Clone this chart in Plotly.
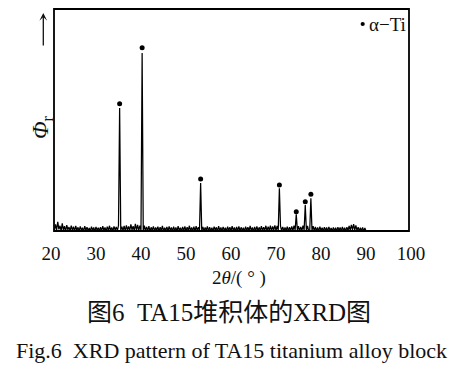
import plotly.graph_objects as go

# ---- data ----
scan_start = 20.75   # first 2theta of the step scan (deg)
scan_step = 0.25     # step of the scan (deg)
intensity = [
    0.6, 3.4, 0.9, 4.6, 1.2, 2.8, 0.5, 3.9, 0.8, 2.6, 0.4, 3.1, 1.0, 2.2, 0.5, 2.9, 0.7, 2.4, 0.4, 2.7,
    0.6, 2.1, 0.4, 2.5, 0.8, 1.9, 0.3, 2.6, 0.7, 2.2, 0.5, 1.8, 0.4, 2.4, 0.6, 2.0, 0.3, 2.3, 0.7, 1.9,
    0.5, 2.2, 0.4, 2.6, 0.7, 2.0, 0.3, 2.4, 0.6, 2.8, 0.5, 2.1, 0.4, 2.5, 0.8, 2.3, 0.6, 2.9,
    55.6,
    0.5, 2.4, 0.6, 2.7, 0.4, 3.0, 0.8, 2.5, 0.6, 3.4, 0.9, 2.6, 0.5, 3.7, 0.8, 3.2, 0.6, 2.9, 0.7,
    80.3,
    0.4, 2.9, 0.6, 2.3, 0.5, 2.6, 0.3, 2.1, 0.7, 2.5, 0.4, 2.0, 0.6, 2.4, 0.3, 2.2, 0.5, 2.7, 0.4, 1.9,
    0.6, 2.3, 0.3, 2.5, 0.7, 2.0, 0.4, 2.4, 0.5, 2.1, 0.3, 2.6, 0.6, 1.9, 0.4, 2.3, 0.5, 2.5, 0.3, 2.2,
    0.6, 2.8, 0.4, 2.1, 0.5, 2.4, 0.3, 2.6, 0.5, 2.2, 0.7,
    22.0,
    0.5, 2.3, 0.4, 2.0, 0.6, 2.5, 0.3, 2.2, 0.5, 1.9, 0.4, 2.4, 0.6, 2.1, 0.3, 2.6, 0.5, 2.0, 0.4, 2.3,
    0.6, 1.9, 0.3, 2.4, 0.5, 2.2, 0.4, 2.6, 0.6, 2.0, 0.3, 2.3, 0.5, 2.5, 0.4, 2.1, 0.6, 1.9, 0.3, 2.4,
    0.5, 2.2, 0.4, 2.7, 0.6, 2.0, 0.3, 2.3, 0.5, 2.5, 0.4, 2.1, 0.6, 2.6, 0.5, 2.2, 0.7, 2.8, 0.5, 2.4,
    0.6, 2.9, 0.5, 2.5, 0.8, 3.0, 0.6, 2.7, 0.9,
    19.6,
    2.6, 0.6, 2.3, 0.4, 2.1, 0.5, 2.4, 0.3, 2.2, 0.6, 2.5, 0.5, 2.9, 0.8,
    7.9,
    0.7, 2.6, 0.4, 2.3, 0.6, 2.8, 0.9,
    12.1,
    0.8, 2.7, 0.6, 0.9,
    15.1,
    0.7, 2.6, 0.4, 2.3, 0.5, 2.1, 0.3, 2.4, 0.6, 1.9, 0.4, 2.2, 0.5, 2.0, 0.3, 2.3, 0.6, 1.8, 0.4, 2.1,
    0.5, 1.9, 0.3, 2.2, 0.6, 2.0, 0.4, 2.3, 0.5, 1.9, 0.3, 2.2, 0.6, 2.7, 0.8, 3.2, 1.0, 3.5, 0.9, 3.0,
    0.6, 2.2, 0.4, 1.9, 0.5, 2.1, 0.3, 1.8, 0.4,
]
two_theta = [round(scan_start + scan_step * i, 2) for i in range(len(intensity))]

# alpha-Ti peak markers
peak_2theta = [35.25, 40.25, 53.25, 70.75, 74.5, 76.5, 77.75]
peak_marker_y = [57.5, 82.6, 23.8, 21.1, 9.1, 13.6, 16.9]

x_ticks = [20, 30, 40, 50, 60, 70, 80, 90, 100]

# ---- layout geometry ----
W, H = 463, 369
L, R, T, B = 51, 411, 9, 232
pw, ph = R - L, B - T


def px(x):
    return (x - L) / pw


def py(y):
    return (B - y) / ph


SERIF = "Liberation Serif, Times New Roman, serif"
CJK = "Liberation Serif, Noto Sans CJK SC, serif"

fig = go.Figure()
fig.add_trace(go.Scatter(
    x=two_theta, y=intensity, mode="lines",
    line=dict(color="#000000", width=1.25), showlegend=False, hoverinfo="skip"))
fig.add_trace(go.Scatter(
    x=peak_2theta, y=peak_marker_y, mode="markers",
    marker=dict(color="black", size=5), showlegend=False, hoverinfo="skip"))

fig.update_layout(
    width=W, height=H,
    margin=dict(l=L, r=W - R, t=T, b=H - B),
    paper_bgcolor="white", plot_bgcolor="white",
    showlegend=False,
)
fig.update_xaxes(
    range=[20, 100], tickvals=x_ticks, ticktext=[str(v) for v in x_ticks],
    showgrid=False, zeroline=False, showline=False,
    ticks="outside", ticklen=4, tickcolor="rgba(0,0,0,0)",
    tickfont=dict(family=SERIF, size=19, color="#111"))
fig.update_yaxes(
    range=[0, 100], showticklabels=False, showgrid=False, zeroline=False,
    showline=False, ticks="")

# frame box
fig.add_shape(type="rect", xref="paper", yref="paper",
              x0=px(54), x1=px(409), y0=py(231), y1=py(9),
              line=dict(color="black", width=1.8), layer="above")
# legend dot
fig.add_shape(type="circle", xref="paper", yref="paper",
              x0=px(360.6), x1=px(364.8), y0=py(26.1), y1=py(21.9),
              line=dict(color="black", width=0), fillcolor="black")

ann = []
ann.append(dict(text="α−Ti", x=px(408), y=py(25), xref="paper", yref="paper",
                xanchor="right", yanchor="middle", showarrow=False,
                font=dict(family=SERIF, size=19, color="#111")))
ann.append(dict(text="<i>Φ</i><sub>r</sub>", x=px(42), y=py(127), xref="paper", yref="paper",
                xanchor="center", yanchor="middle", textangle=-90, showarrow=False,
                font=dict(family=SERIF, size=23, color="#111")))
ann.append(dict(text="", x=px(43.3), y=py(13), xref="paper", yref="paper",
                ax=0, ay=34, showarrow=True, arrowhead=3, arrowsize=1,
                arrowwidth=1.3, arrowcolor="#111"))
ann.append(dict(text="2<i>θ</i>/( ° )", x=px(239), y=py(278), xref="paper", yref="paper",
                xanchor="center", yanchor="middle", showarrow=False,
                font=dict(family=SERIF, size=19, color="#111")))
ann.append(dict(text="图6  TA15堆积体的XRD图", x=px(229), y=py(312), xref="paper", yref="paper",
                xanchor="center", yanchor="middle", showarrow=False,
                font=dict(family=CJK, size=25, color="#111")))
ann.append(dict(text="Fig.6  XRD pattern of TA15 titanium alloy block", x=px(231.5), y=py(350),
                xref="paper", yref="paper", xanchor="center", yanchor="middle",
                showarrow=False, font=dict(family=SERIF, size=22, color="#111")))
fig.update_layout(annotations=ann)

fig.write_html(
    "out.html",
    config={"displayModeBar": False},
    post_script="document.body.style.margin='0';document.body.style.padding='0';",
)
